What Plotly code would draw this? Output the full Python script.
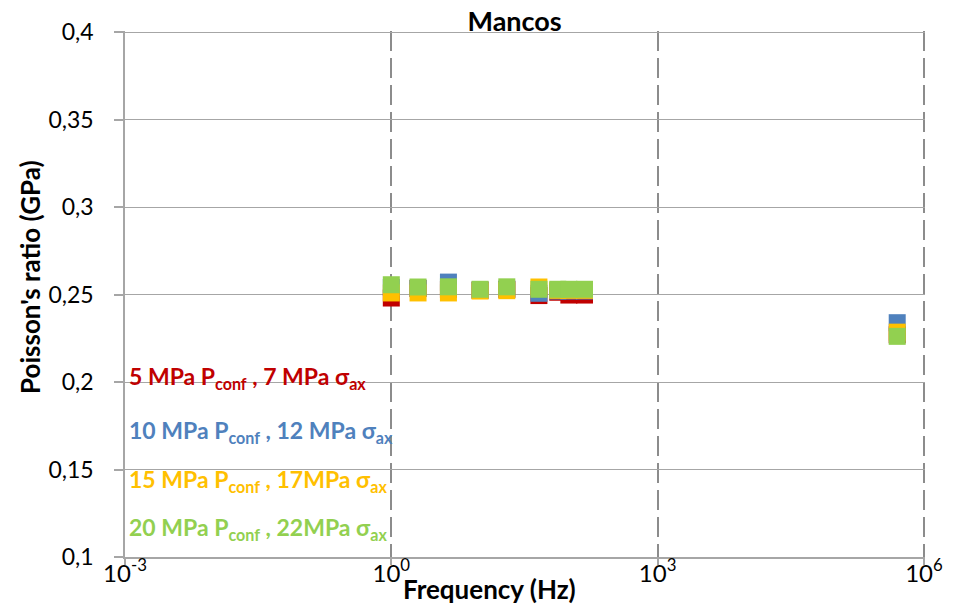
import plotly.graph_objects as go

# ---- data ----
freq_hz = [1, 2, 4.4, 10, 20, 46, 75, 100, 150, 5e5]
nu_5MPa = [0.2480, 0.2535, 0.2530, 0.2525, 0.2530, 0.2494, 0.2513, 0.2497, 0.2497, 0.2270]
nu_10MPa = [0.2540, 0.2535, 0.2571, 0.2525, 0.2530, 0.2507, 0.2520, 0.2520, 0.2520, 0.2339]
nu_15MPa = [0.2509, 0.2509, 0.2509, 0.2520, 0.2522, 0.2543, 0.2524, 0.2524, 0.2524, 0.2285]
nu_20MPa = [0.2556, 0.2543, 0.2544, 0.2530, 0.2544, 0.2530, 0.2530, 0.2530, 0.2530, 0.2261]

series_names = [
    "5 MPa P<sub>conf</sub> , 7 MPa σ<sub>ax</sub>",
    "10 MPa P<sub>conf</sub> , 12 MPa σ<sub>ax</sub>",
    "15 MPa P<sub>conf</sub> , 17MPa σ<sub>ax</sub>",
    "20 MPa P<sub>conf</sub> , 22MPa σ<sub>ax</sub>",
]
series_values = [nu_5MPa, nu_10MPa, nu_15MPa, nu_20MPa]
series_colors = ["#C00000", "#4F81BD", "#FFC000", "#92D050"]
label_y = [0.2024, 0.1720, 0.1436, 0.1162]

y_tick_vals = [0.1, 0.15, 0.2, 0.25, 0.3, 0.35, 0.4]
y_tick_text = ["0,1", "0,15", "0,2", "0,25", "0,3", "0,35", "0,4"]
x_tick_vals = [1e-3, 1e0, 1e3, 1e6]
x_tick_text = ["10<sup>-3</sup>", "10<sup>0</sup>", "10<sup>3</sup>", "10<sup>6</sup>"]

title_text = "Mancos"
x_title = "Frequency (Hz)"
y_title = "Poisson's ratio (GPa)"

FONT = "Lato"

fig = go.Figure()
for name, vals, col in zip(series_names, series_values, series_colors):
    fig.add_trace(go.Scatter(
        x=freq_hz, y=vals, mode="markers", name=name,
        marker=dict(symbol="square", size=17, color=col, line=dict(width=0)),
        showlegend=False,
    ))

for name, col, ly in zip(series_names, series_colors, label_y):
    fig.add_annotation(
        x=0.003, xref="paper", y=ly, yref="y", text="<b>" + name + "</b>",
        showarrow=False, xanchor="left", yanchor="middle",
        font=dict(family=FONT, size=23, color=col),
    )

# axis titles placed as in the reference
fig.add_annotation(
    x=-0.119, xref="paper", y=0.532, yref="paper", text="<b>" + y_title + "</b>",
    textangle=-90, showarrow=False, xanchor="center", yanchor="middle",
    font=dict(family=FONT, size=26, color="black"),
)
fig.add_annotation(
    x=0.456, xref="paper", y=-0.061, yref="paper", text="<b>" + x_title + "</b>",
    showarrow=False, xanchor="center", yanchor="middle",
    font=dict(family=FONT, size=26, color="black"),
)

fig.update_layout(
    width=953, height=607,
    margin=dict(l=125, r=28, t=31, b=50, autoexpand=False),
    paper_bgcolor="white", plot_bgcolor="white",
    font=dict(family=FONT, color="black"),
    title=dict(text="<b>" + title_text + "</b>", x=0.487, xref="paper", xanchor="center",
               y=1.0, yref="paper", yanchor="bottom", pad=dict(b=0),
               font=dict(family=FONT, size=27, color="black")),
)

fig.update_xaxes(
    type="log", range=[-3, 6.012], automargin=False,
    tickvals=x_tick_vals, ticktext=x_tick_text,
    tickfont=dict(family=FONT, size=24, color="black"),
    showgrid=True, gridcolor="#8C8C8C", gridwidth=2, griddash="20px,7px",
    showline=True, linecolor="#A6A6A6", linewidth=1.5,
    ticks="outside", ticklen=6, tickcolor="#A6A6A6", tickwidth=1.5,
    ticklabelstandoff=-12,
    zeroline=False,
)
fig.update_yaxes(
    range=[0.1, 0.4006], automargin=False,
    tickvals=y_tick_vals, ticktext=y_tick_text,
    tickfont=dict(family=FONT, size=23, color="black"),
    showgrid=True, gridcolor="#A6A6A6", gridwidth=1.3,
    showline=True, linecolor="#A6A6A6", linewidth=1.5,
    ticks="outside", ticklen=9, tickcolor="#A6A6A6", tickwidth=1.5,
    ticklabelstandoff=16,
    zeroline=False,
)

fig.write_html("out.html")
